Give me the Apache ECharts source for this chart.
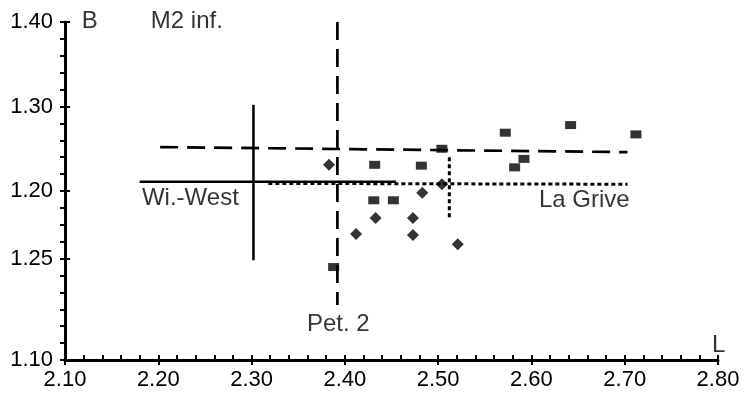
<!DOCTYPE html>
<html><head><meta charset="utf-8">
<script src="https://cdn.jsdelivr.net/npm/echarts@6/dist/echarts.min.js"></script>
<style>html,body{margin:0;padding:0;background:#fff}#c{width:755px;height:395px}</style>
</head><body><div id="c"></div>
<script>
// x ticks (L)
const xMin = 2.10, xMax = 2.80;
// y ticks (B) - labels as printed in the original figure
const yMin = 1.00, yMax = 1.40;
const yTickValues = [1.00, 1.12, 1.20, 1.30, 1.40];
const yTickLabels = ['1.10', '1.25', '1.20', '1.30', '1.40'];

// square markers
const squares = [[2.432,1.231],[2.482,1.230],[2.504,1.250],[2.431,1.189],[2.452,1.189],[2.388,1.110],
  [2.572,1.269],[2.642,1.278],[2.712,1.267],[2.592,1.238],[2.582,1.228]];
// diamond markers
const diamonds = [[2.383,1.231],[2.504,1.208],[2.483,1.198],[2.433,1.168],[2.473,1.168],[2.412,1.149],
  [2.473,1.148],[2.521,1.137]];

// reference lines
const dashedH = [[2.202,1.252],[2.703,1.246]];
const wiWestH = [[2.180,1.211],[2.455,1.211]];
const wiWestV = [[2.302,1.302],[2.302,1.118]];
const pet2V = [[2.392,1.400],[2.392,1.065]];
const laGriveH = [[2.318,1.209],[2.703,1.208]];
const laGriveV = [[2.512,1.240],[2.512,1.166]];

// text annotations (left edge, vertical middle)
const notes = [
  {name:'B', value:[2.118,1.4012]},
  {name:'M2 inf.', value:[2.192,1.4012]},
  {name:'Wi.-West', value:[2.1825,1.1917]},
  {name:'La Grive', value:[2.608,1.1888]},
  {name:'Pet. 2', value:[2.3594,1.0426]},
  {name:'L', value:[2.7935,1.0178]}
];

const FONT = 'Liberation Sans';
const chart = echarts.init(document.getElementById('c'));
function lineSeries(data, type, width){
  return {type:'line', data, symbol:'none', clip:false, silent:true, animation:false,
    lineStyle:{color:'#000', width:width||2.5, type}};
}
chart.setOption({
  animation:false,
  backgroundColor:'#fff',
  grid:{left:65, right:37, top:22, bottom:35},
  xAxis:[
    {type:'value', min:xMin, max:xMax, interval:0.02,
     axisLine:{show:true, lineStyle:{color:'#000', width:3}},
     axisTick:{show:true, inside:true, length:5, lineStyle:{color:'#000', width:2}},
     axisLabel:{show:false}, splitLine:{show:false}},
    {type:'value', min:xMin, max:xMax, interval:0.1, position:'bottom',
     axisLine:{show:false},
     axisTick:{show:true, inside:false, length:5, lineStyle:{color:'#000', width:2}},
     axisLabel:{show:true, margin:9, color:'#000', fontFamily:FONT, fontSize:22,
       formatter:v=>v.toFixed(2)},
     splitLine:{show:false}}
  ],
  yAxis:[
    {type:'value', min:yMin, max:yMax, interval:0.02, position:'left',
     axisLine:{show:true, lineStyle:{color:'#000', width:3}},
     axisTick:{show:true, inside:false, length:5, lineStyle:{color:'#000', width:2}},
     axisLabel:{show:true, margin:12, color:'#000', fontFamily:FONT, fontSize:22,
       formatter:v=>{const i=yTickValues.findIndex(t=>Math.abs(t-v)<0.001);return i<0?'':yTickLabels[i];}},
     splitLine:{show:false}},
    {type:'value', min:yMin, max:yMax, position:'left',
     axisLine:{show:false},
     axisTick:{show:true, inside:true, length:5, customValues:yTickValues, lineStyle:{color:'#000', width:2}},
     axisLabel:{show:false}, splitLine:{show:false}}
  ],
  series:[
    lineSeries(dashedH, [18,9], 2.7),
    lineSeries(wiWestH, 'solid', 2.5),
    lineSeries(wiWestV, 'solid', 2.5),
    lineSeries(pet2V, [18,9], 2.7),
    lineSeries(laGriveH, [4,3], 3),
    lineSeries(laGriveV, [4,3], 3),
    {type:'scatter', data:squares, symbol:'rect', symbolSize:[11,8], itemStyle:{color:'#000'}, clip:false},
    {type:'scatter', data:diamonds, symbol:'diamond', symbolSize:[12,12], itemStyle:{color:'#000'}, clip:false},
    {type:'scatter', data:notes, symbolSize:0, clip:false, silent:true,
     label:{show:true, position:'inside', align:'left', verticalAlign:'middle', offset:[0,0],
       color:'#000', fontFamily:FONT, fontSize:24, formatter:p=>p.name}}
  ]
});
</script></body></html>
